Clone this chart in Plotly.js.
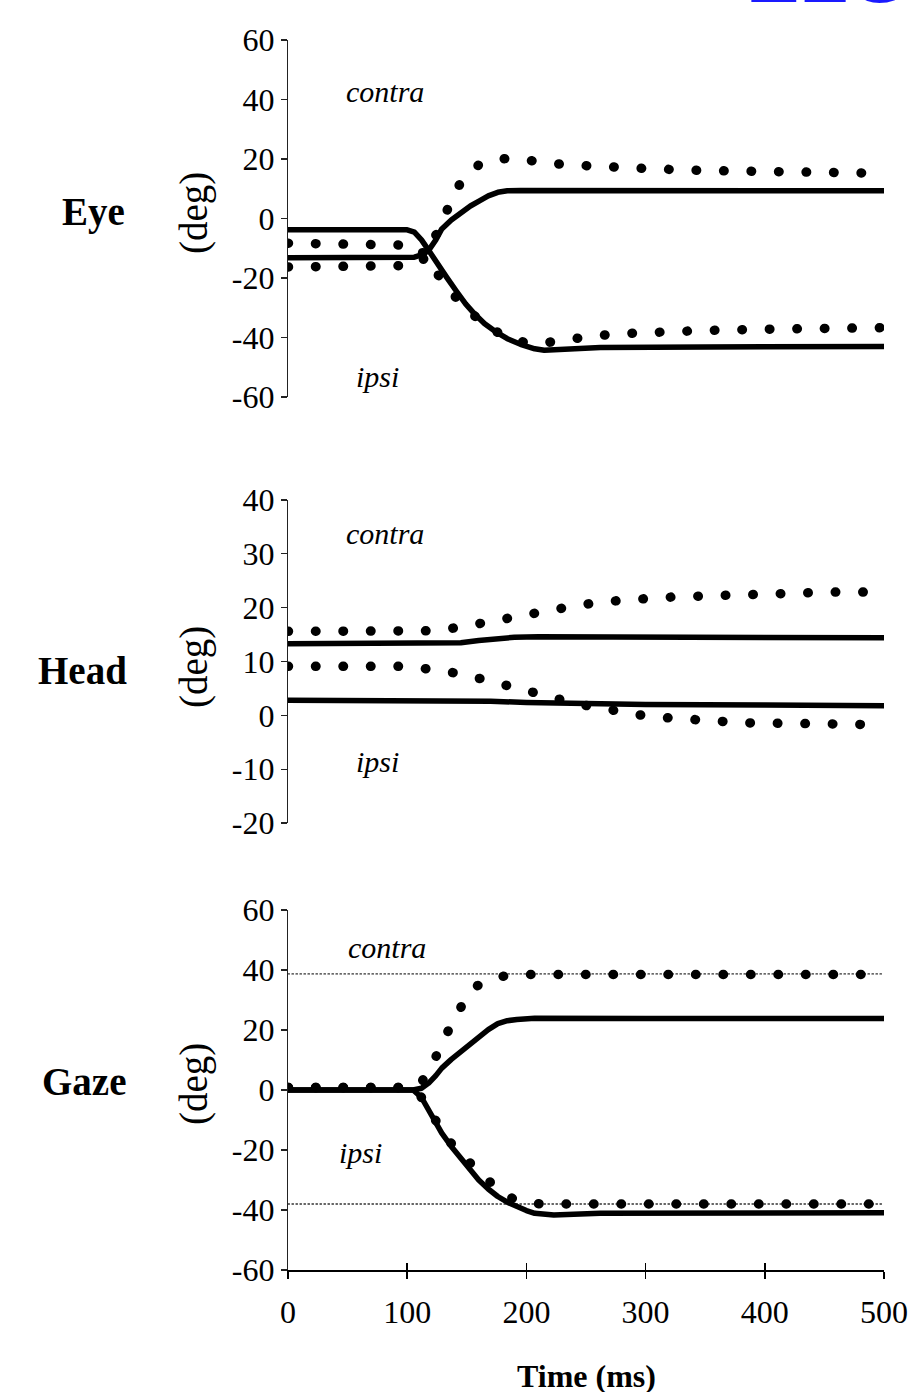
<!DOCTYPE html>
<html>
<head>
<meta charset="utf-8">
<script src="https://cdn.plot.ly/plotly-3.0.1.min.js"></script>
<style>
html,body{margin:0;padding:0;background:#fff;}
#chart{width:910px;height:1392px;}
</style>
</head>
<body>
<div id="chart"></div>
<script>
// ---------------- DATA ----------------
const panelNames = ["Eye", "Head", "Gaze"];
const xTickVals = [0, 100, 200, 300, 400, 500];
const eyeTickVals = [-60, -40, -20, 0, 20, 40, 60];
const headTickVals = [-20, -10, 0, 10, 20, 30, 40];
const gazeTickVals = [-60, -40, -20, 0, 20, 40, 60];

// Eye panel
const eyeContraSolidT = [0, 100, 106, 112, 118, 124, 129, 137, 145, 153, 161, 168, 176, 184, 195, 300, 400, 500];
const eyeContraSolidV = [-13.2, -13.2, -13.0, -12.2, -10.7, -7.2, -3.5, -0.5, 2.1, 4.2, 6.0, 7.6, 8.8, 9.3, 9.4, 9.3, 9.3, 9.3];
const eyeIpsiSolidT = [0, 100, 106, 112, 118, 125, 133, 141, 149, 157, 165, 174, 184, 195, 207, 215, 230, 262, 350, 500];
const eyeIpsiSolidV = [-3.8, -3.8, -4.6, -7.2, -10.7, -15.3, -19.7, -24.3, -28.7, -32.3, -35.4, -38.0, -40.4, -42.3, -43.8, -44.3, -44.0, -43.4, -43.2, -43.0];
const eyeContraDotT = [0, 98, 106, 112, 118, 123, 129, 135, 141, 146, 152, 161, 172, 186, 200, 209, 233, 258, 282, 305, 352, 402, 450, 500];
const eyeContraDotV = [-16.3, -16.3, -15.8, -14.5, -11.5, -6.5, -0.6, 4.8, 9.4, 12.8, 15.5, 18.4, 19.7, 20.3, 19.8, 19.0, 18.1, 17.5, 17.0, 16.7, 16.1, 15.8, 15.4, 15.2];
const eyeIpsiDotT = [0, 98, 106, 112, 118, 126, 135, 147, 159, 171, 184, 196, 207, 219, 231, 254, 278, 301, 352, 402, 450, 500];
const eyeIpsiDotV = [-8.3, -8.3, -9.0, -11.0, -14.0, -19.0, -24.2, -29.5, -33.7, -37.2, -39.9, -41.4, -42.1, -41.6, -40.7, -39.6, -38.7, -38.2, -37.6, -37.2, -36.9, -36.7];

// Head panel
const headContraSolidT = [0, 130, 145, 160, 175, 190, 210, 300, 400, 500];
const headContraSolidV = [13.3, 13.3, 13.5, 13.9, 14.3, 14.5, 14.6, 14.6, 14.5, 14.4];
const headIpsiSolidT = [0, 140, 170, 200, 250, 300, 400, 500];
const headIpsiSolidV = [2.8, 2.8, 2.6, 2.4, 2.2, 2.0, 1.9, 1.8];
const headContraDotT = [0, 98, 122, 145, 168, 194, 217, 242, 265, 289, 314, 338, 362, 386, 410, 434, 457, 484];
const headContraDotV = [15.6, 15.6, 15.7, 16.4, 17.4, 18.7, 19.6, 20.4, 21.1, 21.6, 21.9, 22.1, 22.3, 22.5, 22.8, 22.9, 22.9, 22.9];
const headIpsiDotT = [0, 98, 122, 145, 169, 195, 218, 243, 267, 290, 315, 338, 362, 386, 410, 434, 457, 484];
const headIpsiDotV = [9.1, 9.1, 8.5, 7.7, 6.4, 4.8, 3.3, 2.1, 1.2, 0.2, -0.4, -0.9, -1.1, -1.4, -1.6, -1.6, -1.6, -1.7];

// Gaze panel
const gazeContraSolidT = [0, 105, 112, 118, 124, 129, 137, 145, 153, 160, 168, 176, 184, 192, 200, 207, 300, 400, 500];
const gazeContraSolidV = [0, 0, 0.6, 2.3, 4.8, 7.3, 10.2, 12.9, 15.5, 17.9, 20.1, 22.1, 23.1, 23.5, 23.8, 23.9, 23.8, 23.8, 23.8];
const gazeIpsiSolidT = [0, 105, 112, 118, 124, 129, 137, 145, 153, 160, 168, 176, 184, 192, 200, 207, 215, 223, 262, 350, 500];
const gazeIpsiSolidV = [0, 0, -2.5, -6.6, -10.8, -14.4, -18.8, -22.7, -26.5, -30.0, -33.0, -35.5, -37.4, -38.9, -40.2, -41.1, -41.5, -41.7, -41.1, -41.0, -40.9];
const gazeContraDotT = [0, 105, 112, 118, 124, 129, 135, 141, 149, 158, 170, 184, 200, 300, 400, 500];
const gazeContraDotV = [0.8, 0.8, 2.5, 6.2, 11.0, 15.7, 20.5, 25.1, 30.5, 34.6, 37.0, 38.2, 38.5, 38.5, 38.5, 38.5];
const gazeIpsiDotT = [0, 105, 112, 118, 126, 133, 144, 155, 166, 178, 190, 203, 215, 300, 400, 500];
const gazeIpsiDotV = [0.8, 0.8, -2.5, -6.6, -11.5, -16.0, -21.0, -25.5, -30.0, -33.9, -36.5, -37.8, -38.0, -38.0, -38.0, -38.0];
const gazeTargetT = [0, 500];
const gazeTargetContraV = [38.7, 38.7];
const gazeTargetIpsiV = [-38.0, -38.0];

// ---------------- STYLE ----------------
const L = 288, R = 884, T = 40, B = 1270;
function ax(px){ return (px - L) / (R - L); }
function ay(py){ return (B - py) / (B - T); }
const serif = "Liberation Serif, Times New Roman, serif";

const solid = {color: "#000", width: 5.5, dash: "solid"};
const dotted = {color: "#000", width: 9.5, dash: "0.5px,27px"};
const thinDot = {color: "#333", width: 1.3, dash: "1.5px,2.5px"};

function tr(x, y, line, xa, ya){
  return {type: "scatter", mode: "lines", x: x, y: y, line: line, xaxis: xa, yaxis: ya, hoverinfo: "skip", showlegend: false};
}

const traces = [
  tr(eyeContraSolidT, eyeContraSolidV, solid, "x", "y"),
  tr(eyeIpsiSolidT, eyeIpsiSolidV, solid, "x", "y"),
  tr(eyeContraDotT, eyeContraDotV, dotted, "x", "y"),
  tr(eyeIpsiDotT, eyeIpsiDotV, dotted, "x", "y"),
  tr(headContraSolidT, headContraSolidV, solid, "x2", "y2"),
  tr(headIpsiSolidT, headIpsiSolidV, solid, "x2", "y2"),
  tr(headContraDotT, headContraDotV, dotted, "x2", "y2"),
  tr(headIpsiDotT, headIpsiDotV, dotted, "x2", "y2"),
  tr(gazeTargetT, gazeTargetContraV, thinDot, "x3", "y3"),
  tr(gazeTargetT, gazeTargetIpsiV, thinDot, "x3", "y3"),
  tr(gazeContraSolidT, gazeContraSolidV, solid, "x3", "y3"),
  tr(gazeIpsiSolidT, gazeIpsiSolidV, solid, "x3", "y3"),
  tr(gazeContraDotT, gazeContraDotV, dotted, "x3", "y3"),
  tr(gazeIpsiDotT, gazeIpsiDotV, dotted, "x3", "y3"),
  tr([null], [null], {width: 0}, "x4", "y3")
];

const tickFont = {family: serif, size: 32, color: "#000"};
function yax(domain, range, vals, anchor){
  return {domain: domain, range: range, tickvals: vals, ticktext: vals.map(String), anchor: anchor,
    showline: true, linecolor: "#222", linewidth: 1.2, ticks: "outside", ticklen: 6, tickwidth: 1.2, tickcolor: "#222",
    showgrid: false, zeroline: false, tickfont: tickFont, fixedrange: true};
}
function hiddenX(anchor){
  return {range: [0, 500], anchor: anchor, visible: false, showgrid: false, zeroline: false};
}

const annotations = [];
function ann(text, px, py, font, extra){
  annotations.push(Object.assign({text: text, xref: "paper", yref: "paper", x: ax(px), y: ay(py),
    xanchor: "center", yanchor: "middle", showarrow: false, font: font}, extra || {}));
}
const labelFont = {family: serif, size: 39, color: "#000"};
const degFont = {family: serif, size: 39, color: "#000"};
const itFont = {family: serif, size: 30, color: "#000"};
ann("<b>" + panelNames[0] + "</b>", 93, 212, labelFont);
ann("<b>" + panelNames[1] + "</b>", 82, 671, labelFont);
ann("<b>" + panelNames[2] + "</b>", 84, 1081, labelFont);
ann("(deg)", 194, 213, degFont, {textangle: -90});
ann("(deg)", 194, 667, degFont, {textangle: -90});
ann("(deg)", 194, 1084, degFont, {textangle: -90});
ann("<i>contra</i>", 385, 92, itFont);
ann("<i>ipsi</i>", 377, 377, itFont);
ann("<i>contra</i>", 385, 533, itFont);
ann("<i>ipsi</i>", 377, 762, itFont);
ann("<i>contra</i>", 387, 947, itFont);
ann("<i>ipsi</i>", 360, 1152, itFont);
ann("<b>Time (ms)</b>", 586, 1376, {family: serif, size: 32, color: "#000"});
ann("<b>ELG</b>", 744, 21, {family: "Liberation Sans, Arial, sans-serif", size: 80, color: "#1a1aff"}, {xanchor: "left", yanchor: "bottom"});

const layout = {
  width: 910, height: 1392,
  font: {family: serif, color: "#000"},
  margin: {l: L, r: 910 - R, t: T, b: 1392 - B, pad: 0},
  paper_bgcolor: "#fff", plot_bgcolor: "#fff",
  showlegend: false,
  xaxis: hiddenX("y"),
  xaxis2: hiddenX("y2"),
  xaxis3: {range: [0, 500], anchor: "y3", tickvals: xTickVals, ticktext: xTickVals.map(String),
    showline: true, linecolor: "#000", linewidth: 1.8, ticks: "outside", ticklen: 7, tickwidth: 1.5, tickcolor: "#000",
    ticklabelstandoff: 6,
    showgrid: false, zeroline: false, tickfont: tickFont, fixedrange: true},
  xaxis4: {range: [0, 500], anchor: "y3", overlaying: "x3", tickvals: xTickVals.slice(1), showticklabels: false,
    showline: false, ticks: "inside", ticklen: 7, tickwidth: 1.5, tickcolor: "#000", showgrid: false, zeroline: false, fixedrange: true},
  yaxis: yax([ay(397), 1], [-60, 60], eyeTickVals, "x"),
  yaxis2: yax([ay(823), ay(500)], [-20, 40], headTickVals, "x2"),
  yaxis3: yax([0, ay(910)], [-60, 60], gazeTickVals, "x3"),
  annotations: annotations
};

Plotly.newPlot("chart", traces, layout, {staticPlot: true, displayModeBar: false}).then(function(){
  document.querySelectorAll(".scatterlayer .js-line").forEach(function(p){
    p.style.strokeLinecap = "round";
    p.style.strokeLinejoin = "round";
  });
});
</script>
</body>
</html>
